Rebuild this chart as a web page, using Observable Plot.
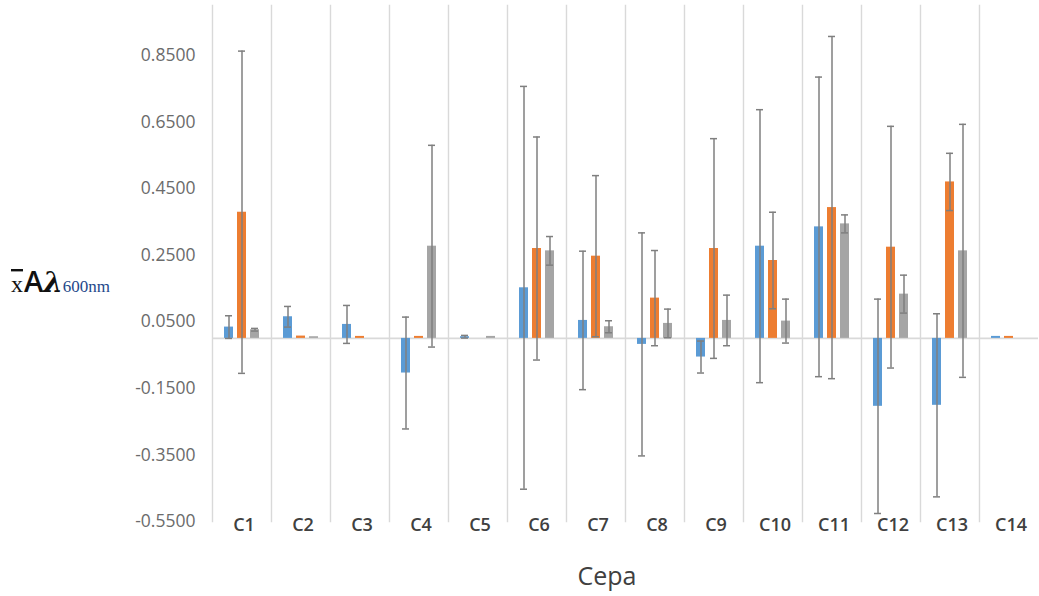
<!DOCTYPE html>
<html>
<head>
<meta charset="utf-8">
<script src="https://cdn.jsdelivr.net/npm/d3@7"></script>
<script src="https://cdn.jsdelivr.net/npm/@observablehq/plot@0.6"></script>
<style>
  html, body { margin: 0; padding: 0; background: #fff; }
  #chart svg { display: block; }
</style>
</head>
<body>
<div id="chart"></div>
<script>
// Strains (cepas) and the three measured series, mean absorbance at 600 nm
const cepas = ["C1","C2","C3","C4","C5","C6","C7","C8","C9","C10","C11","C12","C13","C14"];
const series = ["Serie 1", "Serie 2", "Serie 3"];
const colors = ["#5b9bd5", "#ed7d31", "#a5a5a5"];

const serie1 = [0.034, 0.065, 0.042, -0.104, 0.005, 0.152, 0.054, -0.018, -0.056, 0.277, 0.335, -0.204, -0.201, 0.006];
const serie2 = [0.379, 0.007, 0.006, 0.006, 0, 0.270, 0.247, 0.121, 0.270, 0.234, 0.393, 0.274, 0.470, 0.006];
const serie3 = [0.026, 0.005, 0, 0.277, 0.006, 0.263, 0.035, 0.045, 0.054, 0.052, 0.344, 0.133, 0.263, 0];

// Standard deviations (error bars)
const err1 = [0.034, 0.031, 0.057, 0.168, 0.004, 0.605, 0.208, 0.335, 0.048, 0.410, 0.450, 0.322, 0.275, 0];
const err2 = [0.484, 0, 0, 0, 0, 0.335, 0.242, 0.143, 0.330, 0.145, 0.514, 0.363, 0.086, 0];
const err3 = [0.004, 0, 0, 0.303, 0, 0.043, 0.018, 0.043, 0.076, 0.066, 0.027, 0.057, 0.380, 0];

const yTicks = [0.85, 0.65, 0.45, 0.25, 0.05, -0.15, -0.35, -0.55];

const values = [serie1, serie2, serie3];
const errors = [err1, err2, err3];
const rows = cepas.flatMap((c, i) =>
  series.map((s, j) => ({cepa: c, serie: s, v: values[j][i], e: errors[j][i]}))
);
const withErr = rows.filter(d => d.e > 0);

const chart = Plot.plot({
  width: 1039,
  height: 596,
  marginLeft: 210,
  marginRight: 0,
  marginTop: 5,
  marginBottom: 75,
  style: {fontFamily: "'Open Sans', sans-serif", background: "#fff"},
  fx: {domain: cepas, padding: 0, label: null},
  x: {domain: series, paddingInner: 0.31, paddingOuter: 0.83, axis: null},
  y: {domain: [-0.55, 1.0], label: null},
  color: {domain: series, range: colors},
  marks: [
    Plot.frame({anchor: "left", stroke: "#d9d9d9", strokeWidth: 1.4}),
    Plot.ruleY([0], {stroke: "#d9d9d9", strokeWidth: 1.6}),
    Plot.barY(rows, {fx: "cepa", x: "serie", y: "v", fill: "serie"}),
    Plot.ruleX(withErr, {fx: "cepa", x: "serie", y1: d => d.v - d.e, y2: d => d.v + d.e, stroke: "#7f7f7f", strokeWidth: 1.5}),
    Plot.tickY(withErr, {fx: "cepa", x: "serie", y: d => d.v + d.e, stroke: "#7f7f7f", strokeWidth: 1.5, insetLeft: 1, insetRight: 1}),
    Plot.tickY(withErr, {fx: "cepa", x: "serie", y: d => d.v - d.e, stroke: "#7f7f7f", strokeWidth: 1.5, insetLeft: 1, insetRight: 1}),
    Plot.axisY(yTicks, {tickSize: 0, tickPadding: 17, tickFormat: d => d.toFixed(4), fontSize: 17.5, fill: "#6b6b6b", label: null}),
    Plot.axisFx({anchor: "bottom", tickSize: 0, tickPadding: -3, fontSize: 18, fontWeight: 600, fill: "#404040", dx: 2, label: null})
  ]
});

const svg = d3.select(chart);

// Y axis title: x̄ Aλ600nm
const yTitle = svg.append("text")
  .attr("x", 11)
  .attr("y", 292)
  .attr("text-anchor", "start")
  .attr("fill", "#111");
yTitle.append("tspan")
  .attr("font-family", "'Liberation Serif', serif")
  .attr("font-size", 24)
  .style("text-decoration", "overline")
  .text("x");
yTitle.append("tspan")
  .attr("dx", 1)
  .attr("font-family", "'Open Sans', sans-serif")
  .attr("font-weight", 600)
  .attr("font-size", 29)
  .text("A");
yTitle.append("tspan")
  .attr("font-family", "'DejaVu Serif', serif")
  .attr("font-style", "italic")
  .attr("font-weight", 700)
  .attr("font-size", 28)
  .text("λ");
yTitle.append("tspan")
  .attr("font-family", "'Liberation Serif', serif")
  .attr("font-size", 17)
  .attr("fill", "#24488a")
  .text("600nm");

// X axis title
svg.append("text")
  .attr("x", 607)
  .attr("y", 585)
  .attr("text-anchor", "middle")
  .attr("font-family", "'Open Sans', sans-serif")
  .attr("font-size", 25)
  .attr("fill", "#404040")
  .text("Cepa");

document.getElementById("chart").append(chart);
</script>
</body>
</html>
